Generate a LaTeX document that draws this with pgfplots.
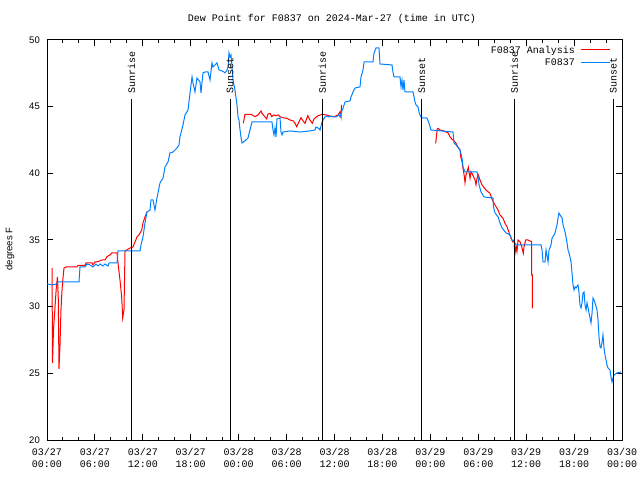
\documentclass[border=0pt]{standalone}
\usepackage{fontspec}
\setmainfont{Liberation Sans}
\newfontfamily\monof{Liberation Mono}
\usepackage{pgfplots}
\pgfplotsset{compat=1.18}
\definecolor{myblue}{RGB}{0,128,255}
\definecolor{myred}{RGB}{255,0,0}
\newcommand{\mf}{\monof\fontsize{10bp}{12bp}\selectfont}
\newcommand{\sff}{\fontsize{9.5bp}{11bp}\selectfont}
\begin{document}
\begin{tikzpicture}
\begin{axis}[
  at={(0,0)}, anchor=south west,
  width=575bp, height=400bp, scale only axis,
  xmin=0, xmax=72, ymin=20, ymax=50,
  xtick={0,6,...,72},
  xticklabels={{03/27\\00:00},{03/27\\06:00},{03/27\\12:00},{03/27\\18:00},{03/28\\00:00},{03/28\\06:00},{03/28\\12:00},{03/28\\18:00},{03/29\\00:00},{03/29\\06:00},{03/29\\12:00},{03/29\\18:00},{03/30\\00:00}},
  minor x tick num=2,
  ytick={20,25,...,50},
  tick align=inside,
  major tick length=6bp, minor tick length=3bp,
  axis line style={line width=1bp},
  every tick/.style={black, line width=1bp},
  xticklabel style={font=\mf, align=center, inner sep=0pt, yshift=-8bp},
  yticklabel style={font=\sff, inner sep=0pt, xshift=-7bp},
  /pgf/number format/assume math mode=true,
  ylabel={degrees F},
  ylabel style={font=\sff, at={(axis description cs:-0.0643,0.4775)}, anchor=center},
  clip=true,
]
% F0837 Analysis (red), segment 1
\addplot[myred, line width=1bp] coordinates {
(0.63,32.90) (0.69,25.78) (0.81,28.25) (0.94,29.38) (1.06,30.50) (1.19,31.63)
(1.31,32.23) (1.42,30.50) (1.50,25.33) (1.63,27.13) (1.75,29.75) (1.88,31.25)
(2.00,32.15) (2.13,32.90) (2.38,32.98) (2.63,32.98) (3.76,32.98) (3.88,33.10)
(4.76,33.10) (4.88,33.28) (5.64,33.28) (5.76,33.13) (6.01,33.35) (6.39,33.38)
(6.89,33.50) (7.26,33.50) (7.51,33.75) (7.89,33.88) (8.14,34.03) (8.77,34.03)
(8.89,33.28) (9.14,32.00) (9.35,30.73) (9.48,29.15) (9.64,29.75) (9.77,34.18)
(10.39,34.40) (10.77,34.48) (11.02,34.85) (11.27,35.23) (11.52,35.38) (11.86,35.75)
(12.02,36.28) (12.27,36.73) (12.52,37.10)
};
% segment 2
\addplot[myred, line width=1bp] coordinates {
(24.58,43.75) (24.79,44.43) (25.55,44.43) (26.05,44.25) (26.42,44.38) (26.80,44.68)
(26.92,44.50) (27.17,44.32) (27.51,44.08) (27.67,44.45) (27.92,44.50) (28.14,44.25)
(28.42,44.38) (28.68,44.32) (28.96,44.38) (29.18,44.25) (29.55,44.17) (30.02,44.13)
(30.43,44.00) (30.84,43.93) (31.05,43.75) (31.27,43.50) (31.56,43.87) (31.81,44.17)
(32.06,43.93) (32.31,43.75) (32.65,44.32) (32.93,44.00) (33.22,43.75) (33.43,44.08)
(33.77,44.25) (33.94,44.32) (34.47,44.43) (34.94,44.38) (35.31,44.32) (35.56,44.25)
(35.94,44.25) (36.44,44.38) (36.69,44.62) (36.82,44.23) (36.88,45.13)
};
% segment 3
\addplot[myred, line width=1bp] coordinates {
(48.67,42.25) (48.87,43.33) (48.96,43.38) (49.21,43.25) (49.59,43.20) (49.84,43.12)
(50.21,43.05) (50.46,42.75) (50.71,42.55) (50.88,42.50) (51.22,42.25) (51.43,42.00)
(51.72,41.75) (51.80,41.25) (51.97,40.87) (52.09,40.38) (52.26,39.75) (52.34,39.30)
(52.47,39.88) (52.76,40.45) (52.84,40.12) (52.97,39.63) (53.09,40.12) (53.31,39.88)
(53.60,39.50) (53.72,39.13) (53.85,39.63) (54.01,39.88) (54.22,39.50) (54.47,39.13)
(54.64,39.00) (54.97,38.75) (55.22,38.62) (55.47,38.50) (55.68,38.13) (55.97,37.75)
(56.22,37.50) (56.47,37.25) (56.72,36.88) (57.10,36.63) (57.35,36.25) (57.60,36.00)
(57.89,35.50) (58.10,35.13) (58.31,34.87) (58.48,35.00) (58.60,34.00) (58.73,34.50)
(58.85,34.12) (58.98,35.00) (59.23,34.87) (59.44,34.50) (59.64,34.00) (59.73,34.50)
(59.94,35.00) (60.23,35.00) (60.69,34.87) (60.69,32.38) (60.77,32.38) (60.77,29.88)
};
% F0837 (blue)
\addplot[myblue, line width=1bp] coordinates {
(0,31.70) (0.63,31.63) (1.25,31.70) (1.38,31.85) (4.01,31.85) (4.13,32.98)
(4.76,32.98) (5.01,33.20) (5.38,33.13) (5.76,32.98) (6.14,33.20) (6.39,33.05)
(6.64,33.20) (7.01,33.05) (7.26,33.20) (7.64,33.05) (7.76,33.28) (8.77,33.28)
(8.89,34.18) (11.65,34.18) (11.77,34.63) (12.02,35.23) (12.27,36.28) (12.52,37.10)
(12.90,37.25) (13.02,38.00) (13.27,38.00) (13.52,37.25) (13.77,38.15) (14.15,39.28)
(14.53,39.65) (14.78,40.48) (15.15,40.85) (15.40,41.53) (15.78,41.60) (16.03,41.75)
(16.28,41.90) (16.53,42.13) (16.65,42.73) (17.03,43.63) (17.28,44.38) (17.66,44.75)
(17.91,46.03) (18.16,47.23) (18.28,46.78) (18.53,46.10) (18.78,47.15) (19.16,46.85)
(19.28,46.03) (19.53,47.53) (19.78,47.60) (20.16,47.60) (20.41,47.00) (20.66,48.28)
(20.79,47.98) (21.04,48.13) (21.29,48.28) (21.54,47.75) (21.91,47.68) (22.16,47.60)
(22.29,47.53) (22.54,47.75) (22.67,47.98) (22.79,49.03) (22.92,48.73) (23.04,48.88)
(23.17,47.98) (23.29,47.00) (23.54,46.25) (23.79,45.13) (23.92,44.23) (24.04,44.00)
(24.17,43.25) (24.29,42.73) (24.42,42.28) (24.79,42.43) (25.17,42.65) (25.42,43.25)
(25.67,43.85) (28.17,43.85) (28.30,43.25) (28.42,42.88) (28.55,43.40) (28.68,42.73)
(28.80,44.08) (29.18,44.15) (29.30,43.10) (29.43,42.88) (29.55,43.10) (30.43,43.18)
(31.68,43.10) (32.93,43.18) (33.56,43.25) (33.68,43.48) (33.94,43.40) (34.19,43.25)
(34.44,43.85) (34.81,44.23) (35.06,44.30) (35.31,44.23) (35.56,44.30) (35.94,44.23)
(36.19,44.23) (36.56,44.38) (36.69,44.23) (36.82,44.53) (37.07,44.90) (37.32,45.35)
(37.94,45.43) (38.07,45.73) (38.32,46.10) (38.57,46.40) (39.19,46.48) (39.32,47.23)
(39.57,47.75) (39.70,48.35) (40.82,48.35) (40.95,49.03) (41.20,49.40) (41.57,49.40)
(41.70,48.20) (43.20,48.13) (43.32,47.60) (43.45,47.23) (44.20,47.23) (44.33,46.48)
(44.45,47.00) (44.58,46.25) (44.70,47.00) (44.83,46.10) (45.83,46.10) (45.96,45.73)
(46.08,45.35) (46.21,45.13) (46.46,44.98) (46.58,44.60) (46.71,44.38) (46.83,44.23)
(46.96,44.15) (47.58,44.15) (47.83,43.78) (48.08,43.25) (50.84,43.10) (50.96,42.28)
(51.22,42.13) (51.72,41.75) (51.97,41.15) (52.09,40.48) (52.34,40.10) (53.85,40.10)
(53.97,39.73) (54.10,39.13) (54.35,38.60) (54.72,38.23) (55.85,38.15) (55.90,37.48)
(56.10,37.03) (56.48,36.73) (56.72,36.28) (56.98,35.90) (57.48,35.53) (57.98,35.38)
(58.23,35.00) (58.60,34.78) (58.73,34.63) (61.86,34.63) (61.99,34.25) (62.11,33.35)
(62.36,33.35) (62.49,34.25) (62.74,33.35) (62.86,34.25) (63.11,34.63) (63.24,35.15)
(63.49,35.38) (63.61,35.53) (63.86,36.13) (63.99,36.65) (64.11,37.03) (64.24,36.88)
(64.49,36.65) (64.62,36.13) (64.87,35.60) (65.12,34.78) (65.24,34.25) (65.37,34.03)
(65.49,33.73) (65.62,33.35) (65.74,32.53) (65.87,31.63) (65.99,31.25) (66.12,31.48)
(66.24,31.40) (66.49,31.63) (66.62,31.03) (66.74,30.13) (66.87,29.90) (66.99,30.28)
(67.12,31.03) (67.25,31.10) (67.37,30.13) (67.50,29.75) (67.62,30.28) (67.75,29.90)
(67.87,29.53) (68.00,29.15) (68.12,28.78) (68.25,29.53) (68.37,30.65) (68.50,30.50)
(68.62,30.28) (68.87,29.75) (69.00,29.00) (69.12,27.73) (69.25,26.98) (69.37,26.90)
(69.50,27.35) (69.62,27.88) (69.75,26.90) (69.87,26.38) (70.00,26.00) (70.12,25.63)
(70.25,25.40) (70.50,25.25) (70.62,24.73) (70.75,24.35) (70.87,24.65) (71.00,24.88)
(71.38,25.03) (71.88,25.10)
};
% sunrise / sunset lines
\addplot[black, line width=1bp] coordinates {(10.60,20) (10.60,45.57)};
\addplot[black, line width=1bp] coordinates {(22.94,20) (22.94,45.57)};
\addplot[black, line width=1bp] coordinates {(34.47,20) (34.47,45.57)};
\addplot[black, line width=1bp] coordinates {(46.92,20) (46.92,45.57)};
\addplot[black, line width=1bp] coordinates {(58.52,20) (58.52,45.57)};
\addplot[black, line width=1bp] coordinates {(70.91,20) (70.91,45.57)};
\node[rotate=90, anchor=west, inner sep=0pt, font=\mf] at (axis cs:10.60,46.0) {Sunrise};
\node[rotate=90, anchor=west, inner sep=0pt, font=\mf] at (axis cs:22.94,46.0) {Sunset};
\node[rotate=90, anchor=west, inner sep=0pt, font=\mf] at (axis cs:34.47,46.0) {Sunrise};
\node[rotate=90, anchor=west, inner sep=0pt, font=\mf] at (axis cs:46.92,46.0) {Sunset};
\node[rotate=90, anchor=west, inner sep=0pt, font=\mf] at (axis cs:58.52,46.0) {Sunrise};
\node[rotate=90, anchor=west, inner sep=0pt, font=\mf] at (axis cs:70.91,46.0) {Sunset};
\end{axis}
% title
\node[font=\mf, inner sep=0pt] at (285bp,421bp) {Dew Point for F0837 on 2024-Mar-27 (time in UTC)};
% legend (key)
\node[font=\mf, inner sep=0pt, anchor=east, text height=7bp, text depth=0bp] at (528bp,390bp) {F0837 Analysis};
\draw[myred, line width=1bp] (534bp,390bp) -- (563bp,390bp);
\node[font=\mf, inner sep=0pt, anchor=east, text height=7bp, text depth=0bp] at (528bp,377.5bp) {F0837};
\draw[myblue, line width=1bp] (534bp,377.5bp) -- (563bp,377.5bp);
\pgfresetboundingbox
\path[use as bounding box] (-47bp,-40bp) rectangle (593bp,440bp);
\end{tikzpicture}
\end{document}
